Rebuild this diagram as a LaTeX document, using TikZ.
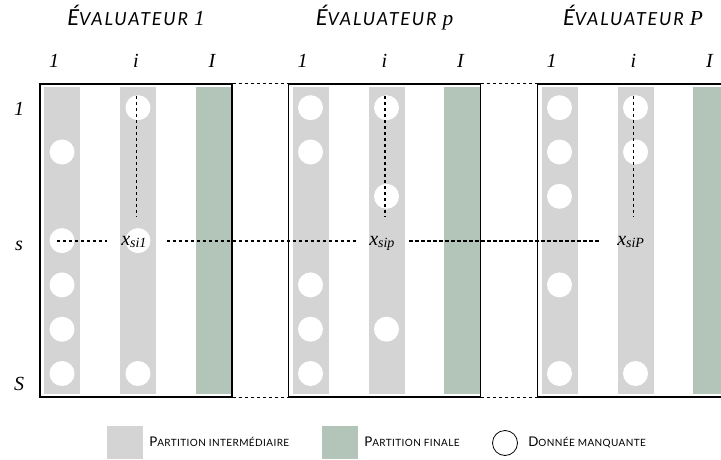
\documentclass[tikz,border=0pt]{standalone}
\usepackage{fontspec}
\setmainfont{Liberation Serif}
\newfontfamily\hdrfont{Lato}[LetterSpace=10]
\newfontfamily\legfont{Lato}[LetterSpace=4]
\definecolor{stripgray}{HTML}{D4D4D4}
\definecolor{stripgreen}{HTML}{B3C4B8}
\newcommand\fakesc[4]{{\fontsize{#1}{#1}\selectfont #3}{\fontsize{#2}{#2}\selectfont #4}}
\newcommand\xsub[1]{{\fontsize{15}{15}\selectfont\itshape x}\raisebox{-1pt}{\fontsize{10.5}{10.5}\selectfont\itshape #1}}
\newcommand\evalhead[1]{\fakesc{16.5}{13.5}{É}{VALUATEUR}\hspace{4.5pt}{\fontsize{16}{16}\selectfont\rmfamily\itshape #1}}
\begin{document}
\begin{tikzpicture}[x=0.75pt,y=-0.75pt,
  panel/.style={draw=black, line width=0.8pt, minimum width=144pt, minimum height=234.75pt, inner sep=0pt},
  graystrip/.style={fill=stripgray, draw=none, minimum width=27pt, minimum height=230.6pt, inner sep=0pt},
  greenstrip/.style={fill=stripgreen, draw=none, minimum width=27.4pt, minimum height=230.6pt, inner sep=0pt},
  miss/.style={circle, fill=white, minimum size=18.75pt, inner sep=0pt},
  dotline/.style={line width=1.2pt, dash pattern=on 2.4pt off 2.1pt},
  collab/.style={font=\fontsize{15}{15}\selectfont\itshape, anchor=base, inner sep=0pt},
  header/.style={font=\hdrfont\itshape, anchor=base, inner sep=0pt},
  xlab/.style={anchor=base west, inner sep=0pt},
  legbox/.style={minimum width=27pt, minimum height=24.75pt, inner sep=0pt},
  legtext/.style={font=\legfont, anchor=base west, inner sep=0pt}
]
\useasboundingbox (0,0) rectangle (721,460);

% strips
\foreach \n/\L in {1/40, 2/288.5, 3/537.5} {
  \node[graystrip] (s\n a) at (\L+22, 240.25) {};
  \node[graystrip] (s\n b) at (\L+98, 240.25) {};
  \node[greenstrip] (s\n g) at (\L+173.8, 240.25) {};
}

% missing data circles
\foreach \n/\L/\rowsA/\rowsB in {1/40/{2,4,5,6,7}/{1,4,7}, 2/288.5/{1,2,5,6,7}/{1,3,6}, 3/537.5/{1,2,3,5,7}/{1,2,7}} {
  \foreach \r in \rowsA { \node[miss] (m\n a\r) at (\L+22, 107.7+44.3*\r-44.3) {}; }
  \foreach \r in \rowsB { \node[miss] (m\n b\r) at (\L+98, 107.7+44.3*\r-44.3) {}; }
}

% panel borders
\node[panel] (p1) at (136, 240.5) {};
\node[panel] (p2) at (384.5, 240.5) {};
\node[panel] (p3) at (633.5, 240.5) {};

% dotted links between panels
\draw[dotline] (p1.north east) -- (p2.north west);
\draw[dotline] (p2.north east) -- (p3.north west);
\draw[dotline] (p1.south east) -- (p2.south west);
\draw[dotline] (p2.south east) -- (p3.south west);

% headers
\node[header] (h1) at (136, 26) {\evalhead{1}};
\node[header] (h2) at (384.5, 26) {\evalhead{p}};
\node[header] (h3) at (633, 26) {\evalhead{P}};

% column labels
\foreach \n/\L in {1/40, 2/288.5, 3/537.5} {
  \node[collab] (c\n a) at (\L+14, 68) {1};
  \node[collab] (c\n b) at (\L+96, 68) {i};
  \node[collab] (c\n c) at (\L+172, 68) {I};
}

% row labels
\node[collab] (r1) at (19, 115.7) {1};
\node[collab] (rs) at (19, 250) {s};
\node[collab] (rS) at (19, 390) {S};

% x labels
\node[xlab] (x1) at (121, 245.7) {\xsub{si1}};
\node[xlab] (x2) at (369, 245.7) {\xsub{sip}};
\node[xlab] (x3) at (617, 245.7) {\xsub{siP}};

% dotted guides
\coordinate (h0) at (57, 240.7);
\draw[dotline, shorten >=10.5pt] (h0) -- (x1.west |- h0);
\draw[dotline, shorten <=15pt, shorten >=8.5pt] (x1.east |- h0) -- (x2.west |- h0);
\draw[dotline, shorten <=11pt, shorten >=12pt] (x2.east |- h0) -- (x3.west |- h0);
\coordinate (v1) at (136.5, 96);
\coordinate (v2) at (385, 96);
\coordinate (v3) at (633.3, 96);
\draw[dotline] (v1) -- (v1 |- 0,217);
\draw[dotline] (v2) -- (v2 |- 0,217);
\draw[dotline] (v3) -- (v3 |- 0,217);

% legend
\node[legbox, fill=stripgray] (lg1) at (125, 442.5) {};
\node[legtext] (lt1) at (149, 446.7) {\fakesc{10}{7.5}{P}{ARTITION INTERMÉDIAIRE}};
\node[legbox, fill=stripgreen] (lg2) at (340, 442.5) {};
\node[legtext] (lt2) at (364, 446.7) {\fakesc{10}{7.5}{P}{ARTITION FINALE}};
\node[circle, draw=black, line width=0.6pt, minimum size=18.75pt, inner sep=0pt] (lg3) at (505, 443) {};
\node[legtext] (lt3) at (528, 446.7) {\fakesc{10}{7.5}{D}{ONNÉE MANQUANTE}};
\end{tikzpicture}
\end{document}
